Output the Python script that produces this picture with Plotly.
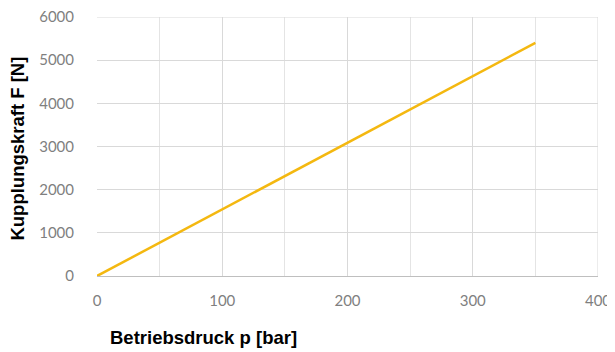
import plotly.graph_objects as go

pressure_bar = [0, 350]
force_N = [0, 5400]
x_ticks = [0, 100, 200, 300, 400]
y_ticks = [0, 1000, 2000, 3000, 4000, 5000, 6000]

fig = go.Figure()
fig.add_trace(go.Scatter(x=pressure_bar, y=force_N, mode="lines",
                         line=dict(color="#F4B810", width=2.5), showlegend=False))

tickfont = dict(family="Lato", size=15, color="#7F7F7F")
# page body adds an 8px offset, so the figure is sized 607x344
fig.update_layout(
    width=607, height=344,
    margin=dict(l=89, r=17, t=9, b=76, autoexpand=False),
    paper_bgcolor="white", plot_bgcolor="white",
    xaxis=dict(range=[0, 400], tickvals=x_ticks, showgrid=True, gridcolor="#D9D9D9",
               minor=dict(dtick=50, showgrid=True, gridcolor="#E4E4E4"),
               showline=True, linecolor="#BFBFBF", zeroline=False, automargin=False,
               ticks="", ticklabelstandoff=11, tickfont=tickfont,
               ticklabeloverflow="allow"),
    yaxis=dict(range=[0, 6000], tickvals=y_ticks, showgrid=True, gridcolor="#D9D9D9",
               zeroline=False, showline=False, ticks="", ticklabelstandoff=22,
               automargin=False, tickfont=tickfont, ticklabeloverflow="allow"),
    shapes=[dict(type="line", xref="x", yref="paper", x0=400, x1=400, y0=0, y1=1,
                 line=dict(color="#D9D9D9", width=1)),
            dict(type="line", xref="paper", yref="y", x0=0, x1=1, y0=6000, y1=6000,
                 line=dict(color="#D9D9D9", width=1))],
    annotations=[
        dict(text="<b>Betriebsdruck p [bar]</b>", xref="paper", yref="paper",
             x=0.022, y=-0.236, xanchor="left", yanchor="middle", showarrow=False,
             font=dict(family="Liberation Sans", size=18.5, color="black")),
        dict(text="<b>Kupplungskraft F [N]</b>", xref="paper", yref="paper",
             x=-0.1577, y=0.492, textangle=-90, xanchor="center", yanchor="middle",
             showarrow=False,
             font=dict(family="Liberation Sans", size=18.5, color="black")),
    ],
)

fig.write_html("out.html")
